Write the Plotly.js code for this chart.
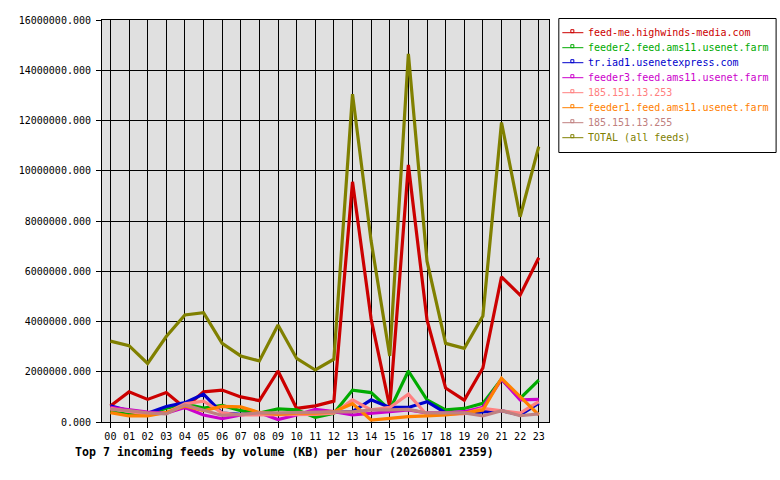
<!DOCTYPE html>
<html>
<head>
<meta charset="utf-8">
<script src="https://cdn.plot.ly/plotly-3.0.1.min.js"></script>
<style>
  body { margin: 0; background: #fff; }
  #plot { width: 780px; height: 480px; }
</style>
</head>
<body>
<div id="plot"></div>
<script>
// hours on the x axis
const hours = ['00','01','02','03','04','05','06','07','08','09','10','11',
               '12','13','14','15','16','17','18','19','20','21','22','23'];

// feed names (legend order) and their colours
const feedNames = [
  'feed-me.highwinds-media.com',
  'feeder2.feed.ams11.usenet.farm',
  'tr.iad1.usenetexpress.com',
  'feeder3.feed.ams11.usenet.farm',
  '185.151.13.253',
  'feeder1.feed.ams11.usenet.farm',
  '185.151.13.255',
  'TOTAL (all feeds)'
];
const feedColors = ['#cc0000', '#00aa00', '#0000cc', '#cc00cc',
                    '#ff8080', '#ff8000', '#c08080', '#808000'];

// KB per hour (millions)
const feedMe   = [0.64, 1.20, 0.90, 1.17, 0.56, 1.20, 1.27, 1.00, 0.85, 2.03, 0.54, 0.64,
                  0.83, 9.56, 4.10, 0.60, 10.23, 4.06, 1.35, 0.87, 2.15, 5.78, 5.05, 6.54];
const feeder2  = [0.40, 0.30, 0.30, 0.55, 0.72, 0.55, 0.66, 0.45, 0.36, 0.52, 0.48, 0.19,
                  0.35, 1.27, 1.17, 0.48, 2.03, 0.88, 0.48, 0.54, 0.74, 1.70, 0.94, 1.67];
const trIad1   = [0.64, 0.45, 0.35, 0.62, 0.77, 1.11, 0.35, 0.30, 0.30, 0.30, 0.35, 0.35,
                  0.38, 0.41, 0.88, 0.58, 0.58, 0.81, 0.36, 0.35, 0.40, 0.45, 0.28, 0.75];
const feeder3  = [0.58, 0.48, 0.39, 0.35, 0.58, 0.28, 0.13, 0.28, 0.37, 0.10, 0.28, 0.50,
                  0.41, 0.28, 0.36, 0.41, 0.48, 0.36, 0.36, 0.41, 0.58, 1.70, 0.88, 0.90];
const ip253    = [0.54, 0.41, 0.30, 0.36, 0.72, 0.83, 0.36, 0.28, 0.28, 0.30, 0.30, 0.30,
                  0.35, 0.88, 0.48, 0.58, 1.11, 0.28, 0.30, 0.33, 0.54, 0.45, 0.35, 0.81];
const feeder1  = [0.37, 0.24, 0.24, 0.38, 0.64, 0.45, 0.62, 0.60, 0.38, 0.30, 0.35, 0.35,
                  0.41, 0.73, 0.08, 0.15, 0.21, 0.24, 0.28, 0.36, 0.48, 1.74, 1.00, 0.28];
const ip255    = [0.50, 0.45, 0.36, 0.32, 0.68, 0.48, 0.26, 0.30, 0.36, 0.36, 0.38, 0.38,
                  0.40, 0.40, 0.48, 0.48, 0.50, 0.36, 0.36, 0.36, 0.24, 0.45, 0.25, 0.32];
const total    = [3.22, 3.04, 2.33, 3.40, 4.26, 4.35, 3.13, 2.63, 2.43, 3.86, 2.53, 2.07,
                  2.50, 13.05, 7.20, 2.63, 14.65, 6.40, 3.13, 2.93, 4.22, 11.92, 8.17, 10.96];

const series = [feedMe, feeder2, trIad1, feeder3, ip253, feeder1, ip255, total];

const MONO = 'DejaVu Sans Mono, Liberation Mono, monospace';

// plot area in pixels (for placing the hand-made legend)
const PL = 102.3, PR = 548.7, PT = 20, PB = 422;
const px = x => (x - PL) / (PR - PL);
const py = y => (PB - y) / (PB - PT);

const traces = series.map((vals, i) => ({
  type: 'scatter',
  mode: 'lines',
  x: hours,
  y: vals.map(v => v * 1e6),
  name: feedNames[i],
  line: { color: feedColors[i], width: 3.2 },
  showlegend: false,
  hoverinfo: 'skip'
}));

// legend: box, line sample with small square, coloured label
const shapes = [{
  type: 'rect', xref: 'paper', yref: 'paper',
  x0: px(558.5), x1: px(775.5), y0: py(152.5), y1: py(18.5),
  line: { color: '#000', width: 1 }, fillcolor: 'rgba(0,0,0,0)'
}];
const annotations = [];
feedNames.forEach((name, i) => {
  const ly = 32.7 + 15 * i;
  shapes.push({
    type: 'line', xref: 'paper', yref: 'paper',
    x0: px(562), x1: px(583), y0: py(ly), y1: py(ly),
    line: { color: feedColors[i], width: 1 }
  });
  shapes.push({
    type: 'rect', xref: 'paper', yref: 'paper',
    x0: px(570.5), x1: px(573.5), y0: py(ly), y1: py(ly - 3),
    line: { color: feedColors[i], width: 1 }, fillcolor: 'rgba(0,0,0,0)'
  });
  annotations.push({
    xref: 'paper', yref: 'paper', x: px(586), y: py(ly),
    xanchor: 'left', yanchor: 'middle', showarrow: false,
    text: name, font: { family: MONO, size: 10, color: feedColors[i] }
  });
});

// chart caption under the axis
annotations.push({
  xref: 'paper', yref: 'paper', x: px(73), y: py(451.5),
  xanchor: 'left', yanchor: 'middle', showarrow: false,
  text: '<b>Top 7 incoming feeds by volume (KB) per hour (20260801 2359)</b>',
  font: { family: MONO, size: 11.6, color: '#000' }
});

const layout = {
  width: 780,
  height: 480,
  margin: { l: PL, r: 780 - PR, t: PT, b: 480 - PB, pad: 0 },
  paper_bgcolor: '#ffffff',
  plot_bgcolor: '#e0e0e0',
  font: { family: MONO, size: 10, color: '#000' },
  showlegend: false,
  xaxis: {
    type: 'category',
    range: [-0.45, 23.55],
    showgrid: true, gridcolor: '#000', gridwidth: 1,
    showline: true, linecolor: '#000', linewidth: 1, mirror: true,
    ticks: 'outside', ticklen: 5, tickcolor: '#000',
    tickfont: { family: MONO, size: 10, color: '#000' },
    zeroline: false, fixedrange: true
  },
  yaxis: {
    range: [0, 16000000],
    dtick: 2000000,
    tickformat: '.3f',
    showgrid: true, gridcolor: '#000', gridwidth: 1,
    showline: true, linecolor: '#000', linewidth: 1, mirror: true,
    ticks: 'outside', ticklen: 5, tickcolor: '#000',
    ticklabelstandoff: 3,
    tickfont: { family: MONO, size: 10, color: '#000' },
    zeroline: false, fixedrange: true
  },
  shapes: shapes,
  annotations: annotations
};

Plotly.newPlot('plot', traces, layout, { staticPlot: true, displayModeBar: false });
</script>
</body>
</html>
